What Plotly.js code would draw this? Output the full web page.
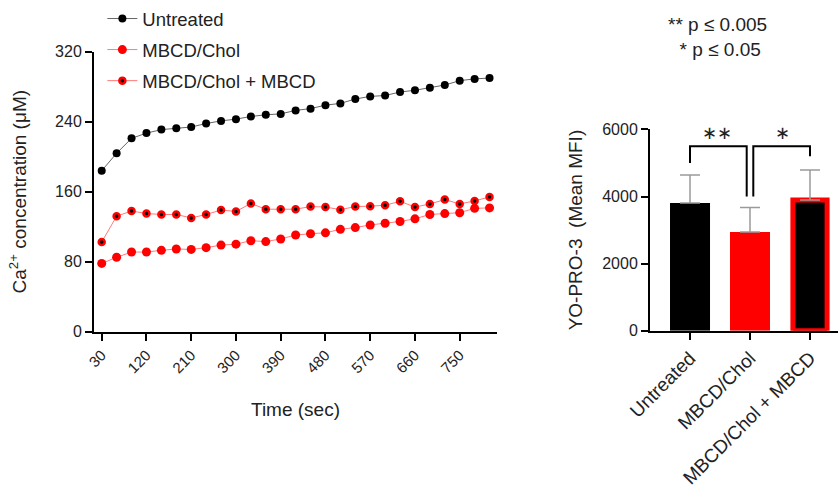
<!DOCTYPE html>
<html><head><meta charset="utf-8">
<script src="https://cdn.plot.ly/plotly-3.0.1.min.js"></script>
<style>html,body{margin:0;padding:0;background:#fff}#chart{width:839px;height:487px}</style>
</head><body><div id="chart"></div>
<script>
// ---- Line chart data (Ca2+ concentration over time) ----
const timeSec = [30,60,90,120,150,180,210,240,270,300,330,360,390,420,450,480,510,540,570,600,630,660,690,720,750,780,810];
const untreated = [184,204,221,227,231,232.5,234,238,241,243,246,248,249,253,255,259,261,266,269,270,274,276,279,282,287,289,290];
const mbcdChol = [78,85,91,91,93,94.5,94,96,99,100,104,103,106,110.5,112,113,117,119,122,124,126,129,134,135,136,141,141.5];
const mbcdCholMbcd = [102.5,132,138,135,134,134,130,134,139,137.5,146.5,140,140,140,143,142.5,139.5,143,143.5,144.5,149,142.5,146,151,146,149.5,154];
const timeTicks = [30,120,210,300,390,480,570,660,750];

// ---- Bar chart data (YO-PRO-3 Mean MFI) ----
const groups = ['Untreated','MBCD/Chol','MBCD/Chol + MBCD'];
const meanMFI = [3810, 2940, 3900];
const sdMFI = [830, 730, 890];
const mfiTicks = [0,2000,4000,6000];

const FONT = 'Liberation Sans, Arial, sans-serif';
const TXT = '#222';

const traces = [
  {x: timeSec, y: untreated, name: 'Untreated', type: 'scatter', mode: 'lines+markers',
   xaxis: 'x', yaxis: 'y', legendgroup: 'a',
   line: {color: '#666', width: 1},
   marker: {color: '#000', size: 8}},
  {x: timeSec, y: mbcdChol, name: 'MBCD/Chol', type: 'scatter', mode: 'lines+markers',
   xaxis: 'x', yaxis: 'y', legendgroup: 'b',
   line: {color: '#ff7a7a', width: 1},
   marker: {color: '#ff0000', size: 9}},
  {x: timeSec, y: mbcdCholMbcd, name: 'MBCD/Chol + MBCD', type: 'scatter', mode: 'lines+markers',
   xaxis: 'x', yaxis: 'y', legendgroup: 'c',
   line: {color: '#ff7a7a', width: 1},
   marker: {color: '#000', size: 6, line: {color: '#ff0000', width: 2.5}}},
  {x: [0,1,2], y: meanMFI, type: 'bar', xaxis: 'x2', yaxis: 'y2', showlegend: false,
   width: [0.667, 0.667, 0.57],
   marker: {color: ['#000','#ff0000','#000'], line: {color: ['#000','#ff0000','#ff0000'], width: [0,0,5]}},
   error_y: {type: 'data', symmetric: false, array: sdMFI, arrayminus: [0,0,0],
             color: '#9a9a9a', thickness: 1.5, width: 10}}
];

const axisCommon = {
  showline: true, linecolor: '#000', linewidth: 2, ticks: 'outside', ticklen: 7, tickwidth: 2,
  tickcolor: '#000', showgrid: false, zeroline: false, tickfont: {family: FONT, size: 16, color: TXT}
};

const layout = {
  width: 839, height: 487,
  margin: {l: 0, r: 0, t: 0, b: 0},
  paper_bgcolor: '#fff', plot_bgcolor: '#fff',
  font: {family: FONT, color: TXT},
  showlegend: true,
  legend: {x: 0.122, y: 1.005, xanchor: 'left', yanchor: 'top', font: {family: FONT, size: 18.5, color: TXT},
           traceorder: 'grouped', tracegroupgap: 4, bgcolor: 'rgba(0,0,0,0)'},
  xaxis: Object.assign({}, axisCommon, {
    domain: [94/839, 497/839], range: [14.5, 825], tickmode: 'array', tickvals: timeTicks,
    ticktext: timeTicks.map(String), tickangle: -45, anchor: 'y',
    tickfont: {family: FONT, size: 15, color: TXT},
    title: {text: 'Time (sec)', font: {family: FONT, size: 19, color: TXT}, standoff: 27}
  }),
  yaxis: Object.assign({}, axisCommon, {
    domain: [(487-331)/487, (487-50)/487], range: [0, 320], tickmode: 'array', tickvals: [0,80,160,240,320],
    anchor: 'x',
    title: {text: 'Ca<sup>2+</sup> concentration (μM)', font: {family: FONT, size: 19, color: TXT}, standoff: 23}
  }),
  xaxis2: Object.assign({}, axisCommon, {
    domain: [650/839, 838/839], range: [-0.667, 2.467], tickmode: 'array', tickvals: [0,1,2],
    ticktext: groups, tickangle: -45, anchor: 'y2',
    tickfont: {family: FONT, size: 19, color: TXT}
  }),
  yaxis2: Object.assign({}, axisCommon, {
    domain: [(487-330)/487, (487-128)/487], range: [0, 6000], tickmode: 'array', tickvals: mfiTicks,
    anchor: 'x2',
    title: {text: 'YO-PRO-3\u00a0 (Mean MFI)', font: {family: FONT, size: 19, color: TXT}, standoff: 15}
  }),
  shapes: [
    {type: 'path', xref: 'x2', yref: 'y2', path: 'M 0,5000 L 0,5500 L 0.945,5500 L 0.945,4000',
     line: {color: '#000', width: 2}},
    {type: 'path', xref: 'x2', yref: 'y2', path: 'M 1.055,4000 L 1.055,5500 L 2,5500 L 2,5200',
     line: {color: '#000', width: 2}}
  ],
  annotations: [
    {xref: 'x2', yref: 'y2', x: 0.45, y: 5920, text: '∗∗', showarrow: false,
     font: {family: 'DejaVu Sans', size: 18, color: TXT}},
    {xref: 'x2', yref: 'y2', x: 1.545, y: 5920, text: '∗', showarrow: false,
     font: {family: 'DejaVu Sans', size: 18, color: TXT}},
    {xref: 'paper', yref: 'paper', x: 717/839, y: 1 - 35/487, xanchor: 'center', yanchor: 'middle',
     text: '** p ≤ 0.005<br> * p ≤ 0.05', showarrow: false, align: 'center',
     font: {family: FONT, size: 19, color: TXT}}
  ]
};

Plotly.newPlot('chart', traces, layout, {displayModeBar: false, staticPlot: true});
</script>
</body></html>
